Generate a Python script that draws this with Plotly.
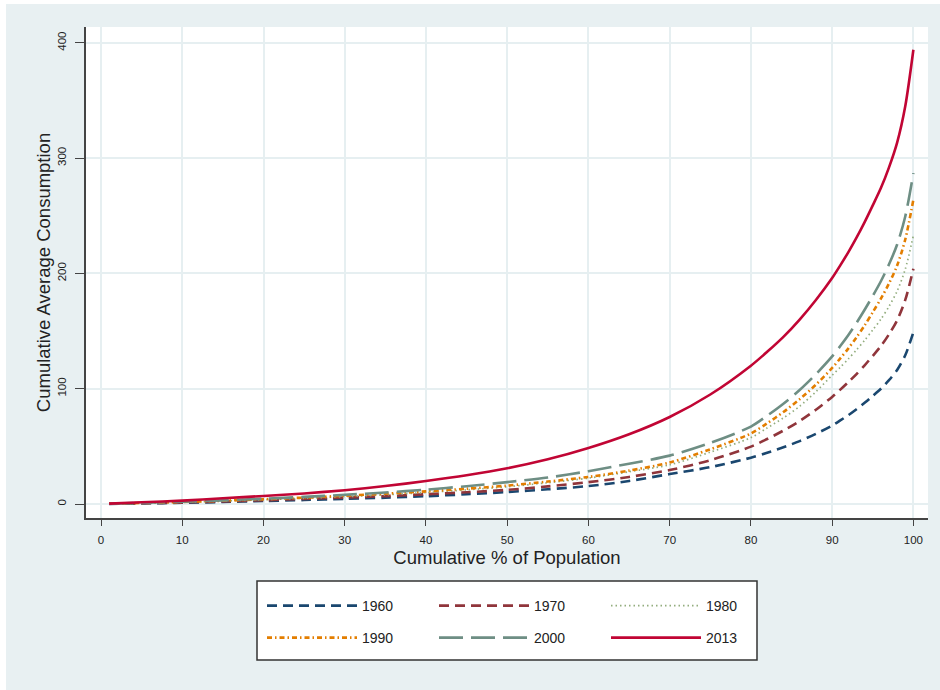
import plotly.graph_objects as go

# ---- data ----
pct = [1, 5, 10, 15, 20, 25, 30, 35, 40, 45, 50, 55, 60, 65, 70, 75,
       80, 82, 84, 86, 88, 90, 91, 92, 93, 94, 95, 96, 97, 98, 99, 100]
y1960 = [0.15, 0.5, 1.1, 1.8, 2.6, 3.5, 4.5, 5.5, 6.8, 8.5, 10.4, 12.8, 15.6, 20, 26, 32,
         40.2, 44.5, 49.2, 54.6, 60.9, 68, 72.5, 77.1, 82.2, 87.8, 93.8, 100, 107.5, 116.3, 129, 149]
y1970 = [0.2, 0.7, 1.4, 2.3, 3.3, 4.4, 5.6, 6.9, 8.5, 10.2, 12.3, 15.3, 19, 23.5, 29.5, 38,
         49.8, 56.4, 63.7, 72, 81.8, 92.9, 99.2, 105.8, 112.7, 120.3, 128.5, 137, 147.2, 159.3, 177, 204]
y1980 = [0.25, 0.8, 1.6, 2.6, 3.8, 5, 6.4, 8, 10, 12.3, 15, 18.5, 22.5, 28, 34, 45,
         57.6, 66, 74.7, 84.8, 97.4, 111.7, 118.6, 125.9, 133.7, 142, 151, 160.3, 171.4, 184.7, 203.6, 233]
y1990 = [0.3, 0.9, 1.8, 2.9, 4.2, 5.6, 7.2, 9, 11, 13.3, 16, 19.5, 23.5, 29, 36, 47.5,
         61.2, 70, 79.8, 90.9, 103.5, 118, 126.3, 135, 144.6, 155, 166.3, 178.1, 191.3, 206.9, 229.4, 264]
y2000 = [0.3, 1, 2, 3.2, 4.6, 6.2, 8, 10, 12.5, 15.5, 19, 23, 28.5, 35, 42, 53,
         67.2, 76.6, 87, 98.9, 112.6, 128, 137, 146.6, 157.1, 168.5, 180.5, 193.2, 207.9, 225.1, 249.4, 287]
y2013 = [0.4, 1.5, 3, 5, 7, 9.2, 12, 15.6, 20, 25, 31, 38.8, 48.6, 60.5, 75.5, 95,
         120, 132, 145, 160, 177, 196, 207, 218.5, 231, 244.5, 259, 274, 292, 313.5, 345, 394]

series_names = ["1960", "1970", "1980", "1990", "2000", "2013"]
series_values = [y1960, y1970, y1980, y1990, y2000, y2013]
x_ticks = [0, 10, 20, 30, 40, 50, 60, 70, 80, 90, 100]
y_ticks = [0, 100, 200, 300, 400]

# ---- styles ----
colors = ["#1a476f", "#90353b", "#93ad7e", "#e37e00", "#6e8e84", "#c10534"]
dashes = ["10px,6px", "10px,6px", "1.5px,3px", "5px,3px,1.5px,3px", "24px,8px", "solid"]
widths = [2.6, 2.6, 1.7, 2.6, 2.6, 2.6]
legend_ids = ["legend", "legend", "legend", "legend2", "legend2", "legend2"]

BG = "#e8f0f2"
FONT = "Liberation Sans, Arial, Helvetica, sans-serif"

fig = go.Figure()
for name, vals, c, d, w, lg in zip(series_names, series_values, colors, dashes, widths, legend_ids):
    fig.add_trace(go.Scatter(
        x=pct, y=vals, mode="lines", name=name,
        line=dict(color=c, dash=d, width=w, shape="spline", smoothing=0.8),
        legend=lg,
    ))

W, H = 940, 690
L, R, T, B = 86, 12, 27, 172
pw, ph = W - L - R, H - T - B

def px_x(p):
    return (p - L) / pw

def px_y(p):
    return (H - B - p) / ph

leg_common = dict(
    orientation="h", xanchor="left", yanchor="middle",
    bgcolor="rgba(0,0,0,0)", borderwidth=0,
    font=dict(family=FONT, size=14, color="#222"),
    itemwidth=90, entrywidth=67, entrywidthmode="pixels",
    itemclick=False, itemdoubleclick=False,
)

fig.update_layout(
    width=W, height=H,
    margin=dict(l=L, r=R, t=T, b=B, autoexpand=False),
    paper_bgcolor=BG, plot_bgcolor="white",
    font=dict(family=FONT, color="#222"),
    showlegend=True,
    legend=dict(x=px_x(262), y=px_y(606), **leg_common),
    legend2=dict(x=px_x(262), y=px_y(638), **leg_common),
    xaxis=dict(
        range=[-1.85, 101.8], tickvals=x_ticks, ticktext=[str(v) for v in x_ticks],
        showgrid=True, gridcolor="#e6eff1", gridwidth=1.5, zeroline=False,
        showline=True, linecolor="#444", linewidth=1.5,
        ticks="outside", ticklen=6, tickwidth=1.2, tickcolor="#444",
        ticklabelstandoff=4,
        tickfont=dict(size=11.5, family=FONT, color="#222"),
        title=dict(text="Cumulative % of Population", font=dict(size=18.5, family=FONT, color="#222"), standoff=7),
    ),
    yaxis=dict(
        range=[-12.1, 413.7], tickvals=y_ticks, ticktext=[str(v) for v in y_ticks],
        showgrid=True, gridcolor="#e6eff1", gridwidth=1.5, zeroline=False,
        showline=True, linecolor="#444", linewidth=1.5,
        ticks="outside", ticklen=9, tickwidth=1.2, tickcolor="#444",
        ticklabelstandoff=5,
        tickangle=-90,
        tickfont=dict(size=11.5, family=FONT, color="#222"),
        title=dict(text="Cumulative Average Consumption", font=dict(size=18.5, family=FONT, color="#222"), standoff=0),
    ),
    shapes=[
        # legend box
        dict(type="rect", xref="paper", yref="paper",
             x0=px_x(257), x1=px_x(757), y0=px_y(660), y1=px_y(581),
             fillcolor="white", line=dict(color="#333", width=1.5), layer="below"),
        # white page strips around the panel
        dict(type="rect", xref="paper", yref="paper",
             x0=px_x(0), x1=px_x(W), y0=px_y(4), y1=px_y(0),
             fillcolor="white", line=dict(width=0), layer="above"),
        dict(type="rect", xref="paper", yref="paper",
             x0=px_x(0), x1=px_x(6), y0=px_y(H), y1=px_y(0),
             fillcolor="white", line=dict(width=0), layer="above"),
    ],
)

fig.write_html("out.html", config={"displayModeBar": False})

# remove the default page margin so the figure sits at the window origin
with open("out.html", "r", encoding="utf-8") as f:
    html = f.read()
html = html.replace("<body>", '<body style="margin:0;padding:0;overflow:hidden;">', 1)
with open("out.html", "w", encoding="utf-8") as f:
    f.write(html)
